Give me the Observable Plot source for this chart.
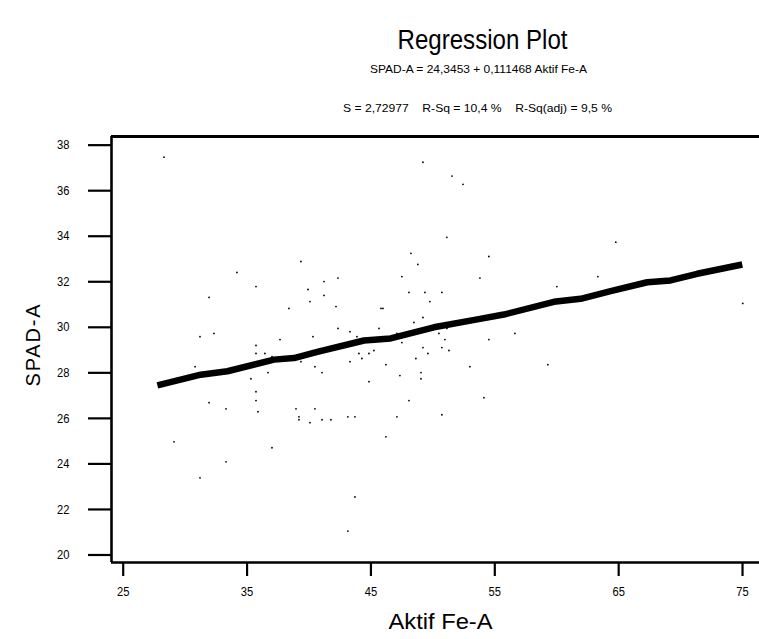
<!DOCTYPE html>
<html>
<head>
<meta charset="utf-8">
<script src="https://cdn.jsdelivr.net/npm/d3@7"></script>
<script src="https://cdn.jsdelivr.net/npm/@observablehq/plot@0.6"></script>
<style>
  html, body { margin: 0; padding: 0; background: #fff; overflow: hidden; }
  svg { display: block; }
</style>
</head>
<body>
<div id="chart"></div>
<script>
// Observed data (Aktif Fe-A vs SPAD-A)
const feA = [28.29,39.35,34.18,35.72,39.92,31.93,40.08,38.38,31.20,32.33,35.72,37.66,40.32,
  49.20,51.54,52.43,51.13,48.23,54.52,48.79,42.34,41.21,47.50,53.80,41.21,48.07,49.36,50.73,
  42.18,49.76,45.81,45.97,49.20,48.47,42.34,43.31,45.65,43.87,47.10,50.49,51.13,56.62,47.50,
  50.97,54.52,45.24,49.20,50.73,51.30,64.77,63.32,60.01,75.02,35.72,36.44,37.01,37.98,39.35,
  40.48,30.80,36.69,35.31,35.72,35.72,31.93,33.30,35.88,38.95,40.48,39.19,39.19,40.08,29.10,
  37.01,33.30,31.20,44.03,44.84,44.27,48.63,49.60,43.31,46.21,52.99,41.05,47.34,49.04,49.04,
  44.84,48.07,54.12,41.05,41.77,43.14,43.71,47.10,50.73,46.21,43.71,43.14,59.28];
const spadA = [37.47,32.89,32.41,31.79,31.66,31.31,31.13,30.83,29.59,29.73,29.20,29.46,29.59,
  37.25,36.64,36.28,33.95,33.25,33.11,32.76,32.16,32.01,32.23,32.16,31.40,31.53,31.53,31.53,
  30.91,31.13,30.83,30.83,30.43,30.21,29.95,29.81,29.95,29.59,29.73,29.73,29.95,29.73,29.33,
  29.46,29.46,28.98,29.11,29.11,28.98,33.74,32.23,31.79,31.05,28.85,28.85,28.71,28.71,28.49,
  28.27,28.27,28.01,27.74,27.17,26.78,26.69,26.42,26.29,26.42,26.42,26.07,25.94,25.81,24.97,
  24.71,24.09,23.39,28.85,28.85,28.63,28.63,28.85,28.49,28.36,28.27,28.01,27.88,28.01,27.74,
  27.61,26.78,26.91,25.94,25.94,26.07,26.07,26.07,26.16,25.19,22.55,21.05,28.36];

// Fitted line as drawn (vertices)
const fitX = [27.76,31.26,33.41,37.17,38.79,40.67,44.44,46.59,50.08,53.59,55.73,59.77,61.93,64.35,67.31,69.19,71.34,74.98];
const fitY = [27.45,27.92,28.07,28.58,28.65,28.92,29.42,29.51,30.00,30.35,30.56,31.12,31.25,31.59,31.98,32.06,32.35,32.76];

const xTicks = [25, 35, 45, 55, 65, 75];
const yTicks = [20, 22, 24, 26, 28, 30, 32, 34, 36, 38];
const xDomain = [24.055, 76.37];
const yDomain = [19.67, 38.38];

const titleText = "Regression Plot";
const eqText = "SPAD-A = 24,3453 + 0,111468 Aktif Fe-A";
const statText = "S = 2,72977    R-Sq = 10,4 %    R-Sq(adj) = 9,5 %";
const xLabel = "Aktif Fe-A";
const yLabel = "SPAD-A";

const points = feA.map((x, i) => ({x, y: spadA[i]}));
const fit = fitX.map((x, i) => ({x, y: fitY[i]}));

const font = "'Liberation Sans', Arial, sans-serif";

const chart = Plot.plot({
  width: 759,
  height: 639,
  marginLeft: 111,
  marginRight: 0,
  marginTop: 136,
  marginBottom: 77,
  style: {fontFamily: font, fontSize: "12px", color: "#000", background: "#fff"},
  x: {domain: xDomain, axis: null},
  y: {domain: yDomain, axis: null},
  marks: [
    Plot.axisX({ticks: xTicks, tickSize: 14, tickPadding: 10, strokeWidth: 2.2, fontSize: 13, label: null, tickFormat: d => d}),
    Plot.axisY({ticks: yTicks, tickSize: 23, tickPadding: 19, strokeWidth: 2.2, fontSize: 13, label: null, tickFormat: d => d}),
    Plot.ruleY([yDomain[1]], {stroke: "#000", strokeWidth: 3.2}),
    Plot.ruleY([yDomain[0]], {stroke: "#000", strokeWidth: 2.6}),
    Plot.ruleX([xDomain[0]], {stroke: "#000", strokeWidth: 2.6}),
    Plot.dot(points, {x: "x", y: "y", r: 0.9, fill: "#000", stroke: null}),
    Plot.line(fit, {x: "x", y: "y", stroke: "#000", strokeWidth: 6.5, strokeLinejoin: "round", strokeLinecap: "butt"}),
    Plot.text([titleText], {frameAnchor: "top", lineAnchor: "middle", dx: 47, dy: -96, fontSize: 27, fill: "#000"}),
    Plot.text([eqText], {frameAnchor: "top", lineAnchor: "middle", dx: 43, dy: -67, fontSize: 11.5, fill: "#000"}),
    Plot.text([statText], {frameAnchor: "top", lineAnchor: "middle", dx: 42, dy: -28, fontSize: 11.5, fill: "#000"}),
    Plot.text([xLabel], {frameAnchor: "bottom", lineAnchor: "middle", dx: 5, dy: 59, fontSize: 22, fill: "#000"}),
    Plot.text([yLabel], {frameAnchor: "left", textAnchor: "middle", lineAnchor: "middle", dx: -78, dy: -4, rotate: -90, fontSize: 20, fill: "#000"})
  ]
});

// Mimic the narrow typeface of the original
const widths = new Map([[titleText, [170, "spacingAndGlyphs"]], [eqText, [217, "spacingAndGlyphs"]],
  [statText, [269, "spacingAndGlyphs"]], [xLabel, [104, "spacingAndGlyphs"]], [yLabel, [82, "spacing"]]]);
d3.select(chart).selectAll("text").each(function () {
  const t = this.textContent;
  if (widths.has(t)) {
    const [w, mode] = widths.get(t);
    this.setAttribute("textLength", w);
    this.setAttribute("lengthAdjust", mode);
  }
});
d3.select(chart).selectAll('g[aria-label$="tick label"] text').each(function () {
  const tr = this.getAttribute("transform") || "";
  this.setAttribute("transform", tr + " scale(0.86,1)");
});
document.getElementById("chart").appendChild(chart);
</script>
</body>
</html>
